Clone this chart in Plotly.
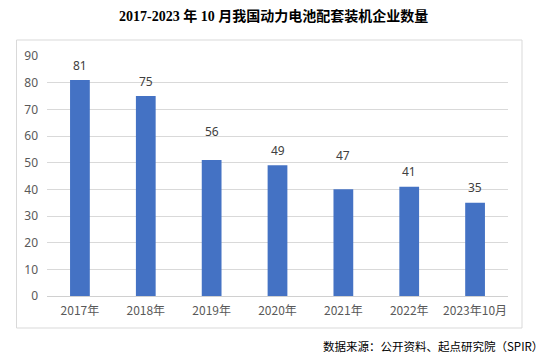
import plotly.graph_objects as go

categories = ["2017年", "2018年", "2019年", "2020年", "2021年", "2022年", "2023年10月"]
bar_values = [81, 75, 51, 49, 40, 41, 35]
label_values = [81, 75, 56, 49, 47, 41, 35]
y_ticks = [0, 10, 20, 30, 40, 50, 60, 70, 80, 90]

W, H = 546, 360
ML, MR, MT, MB = 47, 38, 56, 64

def px(x):
    return (x - ML) / (W - ML - MR)

def py(y):
    return 1 - (y - MT) / (H - MT - MB)

fig = go.Figure()
fig.add_trace(go.Bar(
    x=categories, y=bar_values,
    marker=dict(color="#4472c4", line=dict(width=0)),
    width=0.3, hoverinfo="skip",
))

for c, v in zip(categories, label_values):
    fig.add_annotation(x=c, y=v, text=str(v), showarrow=False,
                       yshift=15, yanchor="middle",
                       font=dict(size=12, color="#404040", family="Noto Sans, Liberation Sans, sans-serif"))

# outer frame
fig.add_shape(type="rect", xref="paper", yref="paper",
              x0=px(16.5), x1=px(522), y0=py(328), y1=py(40),
              line=dict(color="#d9d9d9", width=1), layer="below")

fig.add_annotation(xref="paper", yref="paper", x=px(273), y=py(16),
                   text="<b>2017-2023 年 10 月我国动力电池配套装机企业数量</b>",
                   showarrow=False, xanchor="center", yanchor="middle",
                   font=dict(size=14, color="#000000", family="Liberation Serif, Noto Sans CJK SC, serif"))

fig.add_annotation(xref="paper", yref="paper", x=px(545), y=py(346),
                   text="数据来源：公开资料、起点研究院（SPIR）",
                   showarrow=False, xanchor="right", yanchor="middle",
                   font=dict(size=11.5, color="#000000", family="Noto Sans CJK SC, sans-serif"))

fig.update_layout(
    width=W, height=H,
    margin=dict(l=ML, r=MR, t=MT, b=MB),
    paper_bgcolor="white", plot_bgcolor="white",
    showlegend=False,
    bargap=0.7,
    xaxis=dict(showgrid=False, showline=False, ticks="",
               tickfont=dict(size=12, color="#595959", family="Noto Sans CJK SC, sans-serif"),
               ticklabelstandoff=6),
    yaxis=dict(range=[0, 90], tickvals=y_ticks, showgrid=True, gridcolor="#d9d9d9",
               gridwidth=1, zeroline=True, zerolinecolor="#d0d0d0", zerolinewidth=1,
               showline=False, ticks="",
               tickfont=dict(size=12, color="#595959", family="Noto Sans, Liberation Sans, sans-serif"),
               ticklabelstandoff=8),
)

fig.write_html("out.html")
